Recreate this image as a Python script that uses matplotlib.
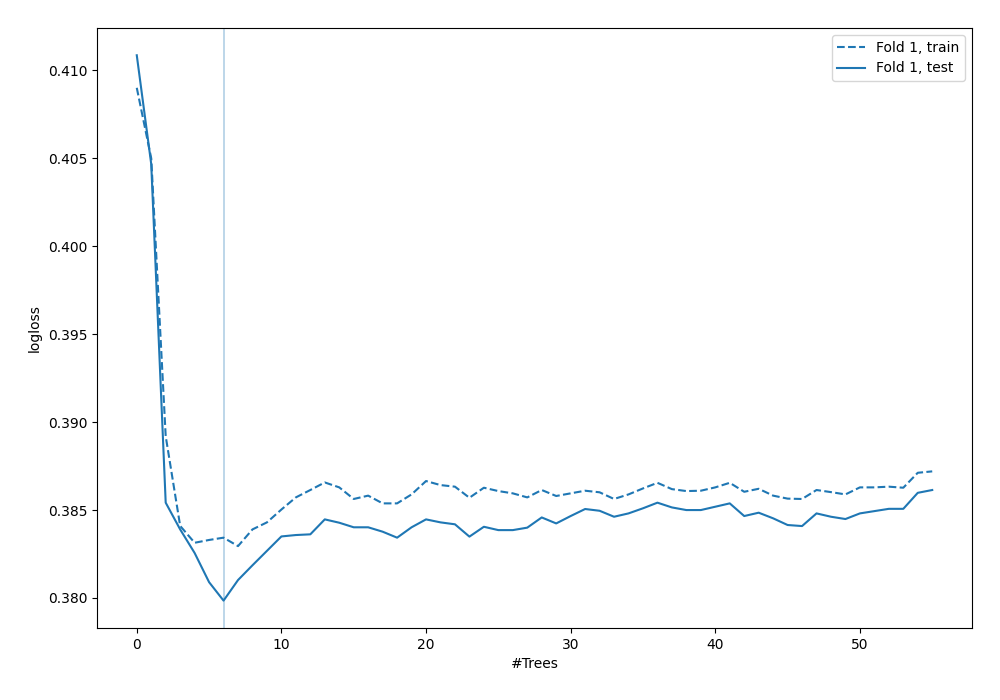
import matplotlib
matplotlib.use("Agg")
import matplotlib.pyplot as plt
import numpy as np

trees = list(range(56))
train = [0.40901, 0.40500, 0.38920, 0.38410, 0.38314, 0.38330, 0.38343, 0.38295, 0.38390, 0.38430,
         0.38503, 0.38572, 0.38614, 0.38657, 0.38629, 0.38563, 0.38582, 0.38538, 0.38538, 0.38589,
         0.38665, 0.38642, 0.38633, 0.38570, 0.38627, 0.38608, 0.38595, 0.38572, 0.38614, 0.38580,
         0.38595, 0.38610, 0.38601, 0.38563, 0.38589, 0.38623, 0.38655, 0.38619, 0.38608, 0.38610,
         0.38629, 0.38655, 0.38604, 0.38621, 0.38582, 0.38565, 0.38563, 0.38614, 0.38602, 0.38589,
         0.38629, 0.38629, 0.38633, 0.38627, 0.38712, 0.38720]
test = [0.41086, 0.40467, 0.38542, 0.38390, 0.38256, 0.38090, 0.37985, 0.38102, 0.38186, 0.38268,
        0.38350, 0.38358, 0.38362, 0.38447, 0.38428, 0.38402, 0.38402, 0.38377, 0.38343, 0.38402,
        0.38447, 0.38430, 0.38419, 0.38349, 0.38405, 0.38386, 0.38386, 0.38400, 0.38458, 0.38424,
        0.38466, 0.38506, 0.38496, 0.38462, 0.38481, 0.38510, 0.38542, 0.38515, 0.38500, 0.38500,
        0.38519, 0.38538, 0.38466, 0.38485, 0.38453, 0.38415, 0.38409, 0.38481, 0.38462, 0.38449,
        0.38481, 0.38494, 0.38507, 0.38507, 0.38598, 0.38614]
best_iter = 6

fig, ax = plt.subplots(figsize=(10, 7), dpi=100)
fig.subplots_adjust(left=0.097, right=0.972, top=0.96, bottom=0.103)
ax.plot(trees, train, linestyle='--', color='C0', label='Fold 1, train')
ax.plot(trees, test, linestyle='-', color='C0', label='Fold 1, test')
ax.axvline(best_iter, color='C0', alpha=0.35, linewidth=1.2)
ax.set_xlabel('#Trees')
ax.set_ylabel('logloss')
ax.legend(loc='upper right')
fig.savefig('out.png', dpi=100)
